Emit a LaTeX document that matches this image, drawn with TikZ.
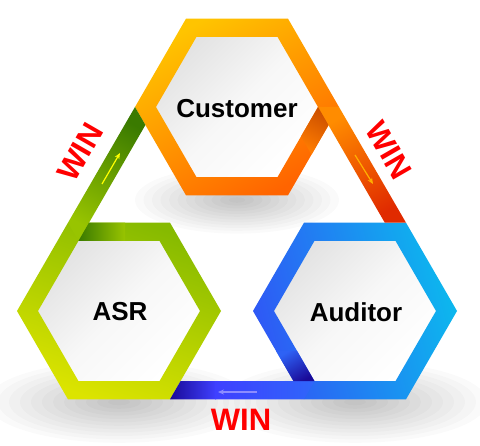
\documentclass[tikz,border=0pt]{standalone}
\usepackage{fontspec}
\setmainfont{Liberation Sans}
\usetikzlibrary{arrows.meta}
\definecolor{winred}{HTML}{FF0000}
\definecolor{cTop}{HTML}{FFC400}
\definecolor{cBot}{HTML}{FF6400}
\definecolor{aTop}{HTML}{86BA00}
\definecolor{aBot}{HTML}{DCE400}
\definecolor{uBlue}{HTML}{2F58F5}
\definecolor{uCyan}{HTML}{0CB8EE}
\definecolor{gDark}{HTML}{3A7A00}
\definecolor{gMid}{HTML}{86BC00}
\definecolor{gLow}{HTML}{98C400}
\definecolor{oTop}{HTML}{FF8C00}
\definecolor{oMid}{HTML}{FF6000}
\definecolor{oDark}{HTML}{E02A00}
\definecolor{bDark}{HTML}{1A0A98}
\definecolor{bMid}{HTML}{3F40FF}
\definecolor{bRight}{HTML}{2F66FA}
\definecolor{cShade}{HTML}{CC5000}
\definecolor{cEdge}{HTML}{FF7C00}
\definecolor{aEdge}{HTML}{98C400}
\definecolor{uEdge}{HTML}{2E62F5}
\definecolor{arrY}{HTML}{FFFF00}
\definecolor{arrO}{HTML}{FFB000}
\definecolor{arrB}{HTML}{8C8CFF}
\tikzset{
  hexo/.style 2 args={insert path={(#1) +(0:#2) -- +(60:#2) -- +(120:#2) -- +(180:#2) -- +(240:#2) -- +(300:#2) -- cycle}},
  lbl/.style={font=\bfseries\fontsize{26}{30}\selectfont, text=black, inner sep=0pt},
  win/.style={font=\bfseries\fontsize{31}{34}\selectfont, text=winred, inner sep=0pt},
  flow/.style={line width=1.2pt, -{Stealth[length=6pt,width=5pt]}},
  face/.style={top color=black!11, bottom color=white, middle color=black!3, shading angle=45},
  soft/.style={fill=black, fill opacity=0.018},
}
\begin{document}
\begin{tikzpicture}[x=1pt,y=-1pt]
\useasboundingbox (0,0) rectangle (480,446);
\fill[white] (0,0) rectangle (480,446);
\coordinate (cC) at (237,107);
\coordinate (cA) at (119,311);
\coordinate (cU) at (355,311);

% soft drop shadows
\foreach \k in {1,...,12}{
  \fill[soft] (119,402) ellipse [x radius={11pt*\k}, y radius={3.4pt*\k}];
  \fill[soft] (355,402) ellipse [x radius={11pt*\k}, y radius={3.4pt*\k}];
  \fill[soft] (237,200) ellipse [x radius={8.5pt*\k}, y radius={2.8pt*\k}];
}

% inner faces
\shade[face, hexo={cC}{82}];
\shade[face, hexo={cA}{82}];
\shade[face, hexo={cU}{82}];

% rings
\shade[even odd rule, top color=cTop, bottom color=cBot, shading angle=30, hexo={cC}{102}, hexo={cC}{81}];
\shade[even odd rule, top color=aTop, bottom color=aBot, shading angle=-20, hexo={cA}{102}, hexo={cA}{81}];
\shade[even odd rule, top color=uBlue, bottom color=uCyan, shading angle=105, hexo={cU}{102}, hexo={cU}{81}];

% connecting bars
\shade[top color=gDark, middle color=gMid, bottom color=gLow, shading angle=-30]
  (68,222.7) -- (135,107) -- (145.4,125) -- (78.5,240.9) -- cycle;
\shade[top color=oTop, middle color=oMid, bottom color=oDark, shading angle=30]
  (318,107) -- (339,107) -- (406,222.7) -- (384.8,222.7) -- cycle;
\shade[left color=bDark, right color=bMid]
  (170,399.3) -- (180.5,381.1) -- (216,381.1) -- (216,399.3) -- cycle;
\shade[left color=bMid, right color=bRight]
  (215,381.1) -- (314.5,381.1) -- (304,399.3) -- (215,399.3) -- cycle;

% edge shadows next to the bars
\shade[left color=gDark, right color=aEdge]
  (89,222.7) -- (125,222.7) -- (125,240.9) -- (78.5,240.9) -- cycle;
\shade[top color=cShade, bottom color=cEdge, shading angle=-30]
  (318,107) -- (328.5,125.2) -- (311.5,154.6) -- (301,136.4) -- cycle;
\shade[top color=uEdge, bottom color=bDark, shading angle=30]
  (293.5,381.1) -- (314.5,381.1) -- (297.1,351) -- (276.1,351) -- cycle;

% small flow arrows
\coordinate (a1s) at (102,184); \coordinate (a1e) at (120,153);
\coordinate (a2s) at (355,155); \coordinate (a2e) at (373,184);
\coordinate (a3s) at (257,392); \coordinate (a3e) at (218,392);
\draw[flow, draw=arrY, fill=arrY] (a1s) -- (a1e);
\draw[flow, draw=arrO, fill=arrO] (a2s) -- (a2e);
\draw[flow, draw=arrB, fill=arrB] (a3s) -- (a3e);

% labels
\node[lbl] (tC) at (237,109) {Customer};
\node[lbl] (tA) at (120,312) {ASR};
\node[lbl] (tU) at (356,312) {Auditor};
\node[win, rotate=60] (w1) at (80,152) {WIN};
\node[win, rotate=-60] (w2) at (389,150) {WIN};
\node[win] (w3) at (241,420) {WIN};
\end{tikzpicture}
\end{document}
